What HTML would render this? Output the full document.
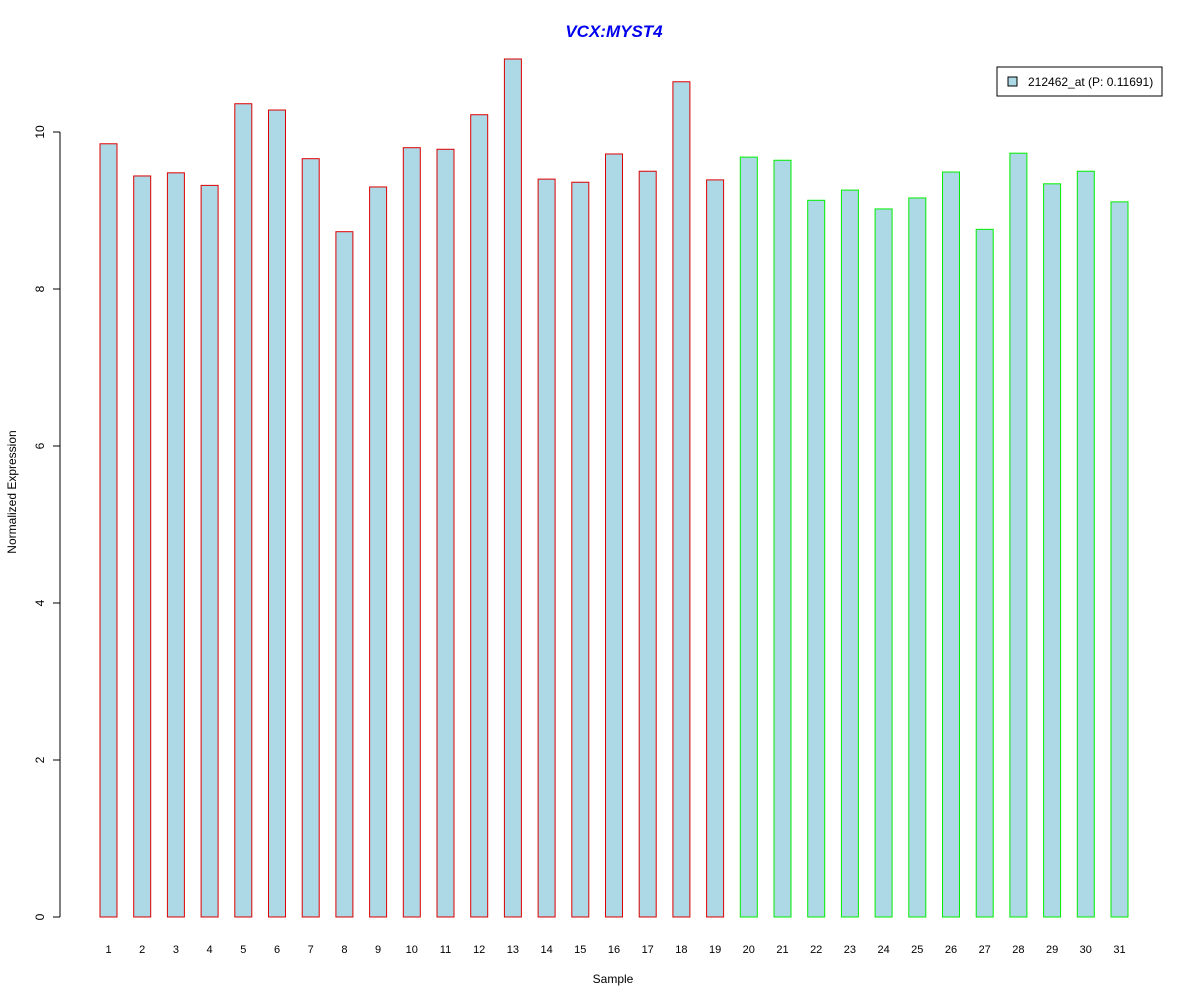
<!DOCTYPE html>
<html><head><meta charset="utf-8"><style>
body{margin:0;background:#fff;}
svg{display:block;font-family:"Liberation Sans",Arial,sans-serif;}
</style></head><body>
<svg id="chart" width="1200" height="1000">
<text x="614" y="37" text-anchor="middle" font-size="17" font-weight="bold" font-style="italic" fill="#0000ee">VCX:MYST4</text>
<text x="613" y="983" text-anchor="middle" font-size="12">Sample</text>
<text transform="translate(16,492) rotate(-90)" text-anchor="middle" font-size="12">Normalized Expression</text>
<g id="yaxis"></g>
<g id="bars"></g>
<g id="xlabels"></g>
<g>
<rect x="997" y="67" width="165" height="29" fill="#fff" stroke="#000"/>
<rect x="1008" y="77" width="9" height="9" fill="#add8e6" stroke="#000"/>
<text x="1028" y="86" font-size="12">212462_at (P: 0.11691)</text>
</g>
</svg>
<script>
const categories = ["1","2","3","4","5","6","7","8","9","10","11","12","13","14","15","16","17","18","19","20","21","22","23","24","25","26","27","28","29","30","31"];
const values = [9.85,9.44,9.48,9.32,10.36,10.28,9.66,8.73,9.30,9.80,9.78,10.22,10.93,9.40,9.36,9.72,9.50,10.64,9.39,9.68,9.64,9.13,9.26,9.02,9.16,9.49,8.76,9.73,9.34,9.50,9.11];
const groups = [1,1,1,1,1,1,1,1,1,1,1,1,1,1,1,1,1,1,1,2,2,2,2,2,2,2,2,2,2,2,2];
const yTicks = [0,2,4,6,8,10];
const NS="http://www.w3.org/2000/svg";
const y = v => 917 - v*78.5;
const x = i => 108.5 + i*33.7;
function mk(tag, attrs, parent){const e=document.createElementNS(NS,tag);for(const k in attrs)e.setAttribute(k,attrs[k]);parent.appendChild(e);return e;}
const ya=document.getElementById('yaxis');
let l=mk('line',{x1:60,x2:60,y1:y(0),y2:y(10),stroke:'#000'},ya);


yTicks.forEach(t=>{
  const tk=mk('line',{x1:53,x2:60,y1:y(t),y2:y(t),stroke:'#000'},ya);
  
  
  const tx=mk('text',{transform:`translate(44,${y(t)}) rotate(-90)`,'text-anchor':'middle','font-size':12},ya);
  tx.textContent=t;
  
  
});
const bg=document.getElementById('bars'), xl=document.getElementById('xlabels');
values.forEach((v,i)=>{
  const r=mk('rect',{x:x(i)-8.5,y:y(v),width:17,height:y(0)-y(v),fill:'#add8e6',stroke:groups[i]===1?'#dd0000':'#00ee00'},bg);
  
  
  const t=mk('text',{x:x(i),y:953,'text-anchor':'middle','font-size':11},xl);
  t.textContent=categories[i];
  
  
});
</script>
</body></html>
